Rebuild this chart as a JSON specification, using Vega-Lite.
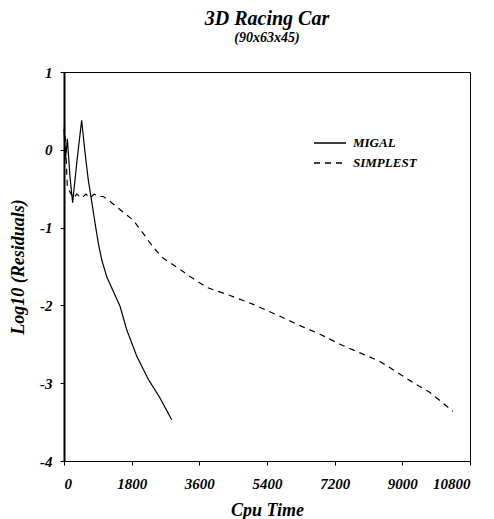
{
  "$schema": "https://vega.github.io/schema/vega-lite/v6.json",
  "width": 406,
  "height": 389,
  "autosize": {"type": "none"},
  "padding": {"left": 64, "top": 72, "right": 24, "bottom": 58},
  "background": "white",
  "title": {
    "text": "3D Racing Car",
    "subtitle": "(90x63x45)",
    "font": "Liberation Serif",
    "fontSize": 20,
    "fontStyle": "italic",
    "fontWeight": "bold",
    "color": "black",
    "subtitleFont": "Liberation Serif",
    "subtitleFontSize": 14,
    "subtitleFontStyle": "italic",
    "subtitleFontWeight": "bold",
    "subtitleColor": "black",
    "subtitlePadding": 2,
    "anchor": "middle",
    "offset": 20
  },
  "config": {
    "view": {"stroke": "black", "strokeWidth": 1},
    "axis": {
      "grid": false,
      "domainColor": "black",
      "tickColor": "black",
      "tickSize": 4,
      "labelFont": "Liberation Serif",
      "labelFontSize": 15,
      "labelFontStyle": "italic",
      "labelFontWeight": "bold",
      "labelColor": "black",
      "titleFont": "Liberation Serif",
      "titleFontSize": 18,
      "titleFontStyle": "italic",
      "titleFontWeight": "bold",
      "titleColor": "black"
    }
  },
  "data": {
    "values": [
      {"series": "MIGAL", "t": 0, "r": 0.27},
      {"series": "MIGAL", "t": 40, "r": -0.12},
      {"series": "MIGAL", "t": 90, "r": 0.14},
      {"series": "MIGAL", "t": 160, "r": -0.35},
      {"series": "MIGAL", "t": 230, "r": -0.68},
      {"series": "MIGAL", "t": 350, "r": -0.12},
      {"series": "MIGAL", "t": 470, "r": 0.38},
      {"series": "MIGAL", "t": 560, "r": -0.04},
      {"series": "MIGAL", "t": 647, "r": -0.39},
      {"series": "MIGAL", "t": 736, "r": -0.66},
      {"series": "MIGAL", "t": 825, "r": -0.94},
      {"series": "MIGAL", "t": 913, "r": -1.2},
      {"series": "MIGAL", "t": 1002, "r": -1.41},
      {"series": "MIGAL", "t": 1135, "r": -1.63},
      {"series": "MIGAL", "t": 1312, "r": -1.82},
      {"series": "MIGAL", "t": 1490, "r": -2.01},
      {"series": "MIGAL", "t": 1667, "r": -2.31},
      {"series": "MIGAL", "t": 1933, "r": -2.65},
      {"series": "MIGAL", "t": 2243, "r": -2.95},
      {"series": "MIGAL", "t": 2554, "r": -3.19},
      {"series": "MIGAL", "t": 2865, "r": -3.47},
      {"series": "SIMPLEST", "t": 10, "r": 0.32},
      {"series": "SIMPLEST", "t": 45, "r": 0.04},
      {"series": "SIMPLEST", "t": 88, "r": -0.47},
      {"series": "SIMPLEST", "t": 178, "r": -0.56},
      {"series": "SIMPLEST", "t": 266, "r": -0.62},
      {"series": "SIMPLEST", "t": 337, "r": -0.57},
      {"series": "SIMPLEST", "t": 470, "r": -0.62},
      {"series": "SIMPLEST", "t": 585, "r": -0.57},
      {"series": "SIMPLEST", "t": 692, "r": -0.62},
      {"series": "SIMPLEST", "t": 798, "r": -0.57},
      {"series": "SIMPLEST", "t": 958, "r": -0.6},
      {"series": "SIMPLEST", "t": 1046, "r": -0.6},
      {"series": "SIMPLEST", "t": 1269, "r": -0.68},
      {"series": "SIMPLEST", "t": 1569, "r": -0.8},
      {"series": "SIMPLEST", "t": 1835, "r": -0.9},
      {"series": "SIMPLEST", "t": 2101, "r": -1.07},
      {"series": "SIMPLEST", "t": 2367, "r": -1.25},
      {"series": "SIMPLEST", "t": 2633, "r": -1.39},
      {"series": "SIMPLEST", "t": 3006, "r": -1.51},
      {"series": "SIMPLEST", "t": 3352, "r": -1.63},
      {"series": "SIMPLEST", "t": 3804, "r": -1.77},
      {"series": "SIMPLEST", "t": 4400, "r": -1.87},
      {"series": "SIMPLEST", "t": 5000, "r": -1.98},
      {"series": "SIMPLEST", "t": 5746, "r": -2.14},
      {"series": "SIMPLEST", "t": 6278, "r": -2.26},
      {"series": "SIMPLEST", "t": 6810, "r": -2.37},
      {"series": "SIMPLEST", "t": 7342, "r": -2.5},
      {"series": "SIMPLEST", "t": 7874, "r": -2.61},
      {"series": "SIMPLEST", "t": 8406, "r": -2.72},
      {"series": "SIMPLEST", "t": 8858, "r": -2.86},
      {"series": "SIMPLEST", "t": 9283, "r": -2.99},
      {"series": "SIMPLEST", "t": 9736, "r": -3.12},
      {"series": "SIMPLEST", "t": 10347, "r": -3.36}
    ]
  },
  "mark": {"type": "line", "color": "black", "strokeWidth": 1.2},
  "encoding": {
    "x": {
      "field": "t",
      "type": "quantitative",
      "title": "Cpu Time",
      "scale": {"domain": [0, 10800], "nice": false},
      "axis": {
        "values": [0, 1800, 3600, 5400, 7200, 9000, 10800],
        "labelExpr": "datum.value + ''",
        "labelPadding": 11,
        "titlePadding": 10,
        "domainWidth": 1
      }
    },
    "y": {
      "field": "r",
      "type": "quantitative",
      "title": "Log10 (Residuals)",
      "scale": {"domain": [-4, 1], "nice": false},
      "axis": {
        "values": [-4, -3, -2, -1, 0, 1],
        "labelExpr": "datum.value + ''",
        "labelPadding": 8,
        "titlePadding": 12,
        "domainWidth": 2
      }
    },
    "strokeDash": {
      "field": "series",
      "type": "nominal",
      "scale": {"domain": ["MIGAL", "SIMPLEST"], "range": [[1, 0], [6, 5]]},
      "legend": {
        "orient": "none",
        "legendX": 249,
        "legendY": 64,
        "title": null,
        "padding": 0,
        "symbolType": "stroke",
        "symbolSize": 1024,
        "symbolStrokeWidth": 1.6,
        "symbolStrokeColor": "black",
        "clipHeight": 14,
        "rowPadding": 6,
        "labelOffset": 6,
        "labelFont": "Liberation Serif",
        "labelFontSize": 13,
        "labelFontStyle": "italic",
        "labelFontWeight": "bold",
        "labelColor": "black"
      }
    }
  }
}
